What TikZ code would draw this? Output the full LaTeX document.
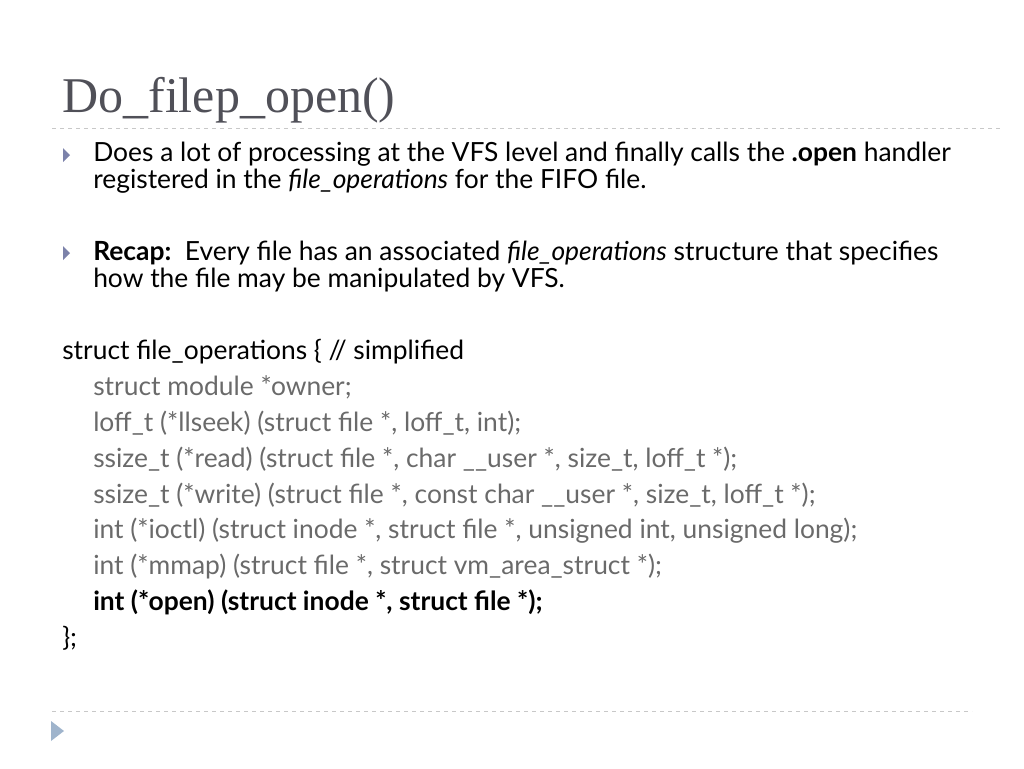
\documentclass[tikz,border=0pt]{standalone}
\usepackage{fontspec}
\setmainfont{Lato}
\newfontfamily\titlefont{Liberation Serif}
\definecolor{titlegray}{HTML}{505058}
\definecolor{codegray}{HTML}{6A6A6A}
\definecolor{bulletblue}{HTML}{7C82AA}
\definecolor{rulegray}{HTML}{C8C8C8}
\definecolor{cornerblue}{HTML}{9FB4CC}
\tikzset{
  bodytext/.style={anchor=base west, inner sep=0pt, font=\fontsize{19.8}{24}\selectfont},
  codetext/.style={bodytext, text=codegray},
  sliderule/.style={rulegray, dashed, line width=0.6pt},
}
\newcommand{\bullettri}[2]{\fill[bulletblue] (#1,#2-7) -- (#1+7,#2) -- (#1,#2+7) -- cycle;}
\begin{document}
\begin{tikzpicture}[x=0.75pt,y=-0.75pt]
        \useasboundingbox (0,0) rectangle (1024,768);
        \node[anchor=base west, inner sep=0pt, text=titlegray, font=\titlefont\fontsize{37.5}{40}\selectfont] (title) at (62,112) {Do\_filep\_open()};
        \draw[sliderule] (52,128) -- (1000,128);
        \draw[sliderule] (52,711) -- (972,711);
        \fill[cornerblue] (51,721) -- (64,731) -- (51,741) -- cycle;

        \bullettri{63}{155}
        \node[bodytext] (opena) at (93,161) {Does a lot of processing at the VFS level and finally calls the \textbf{.open} handler};
        \node[bodytext] (openb) at (93,188) {registered in the \textit{file\_operations} for the FIFO file.};
        \bullettri{63}{253}
        \node[bodytext] (recapa) at (93,260) {\textbf{Recap:}\ \ Every file has an associated \textit{file\_operations} structure that specifies};
        \node[bodytext] (recapb) at (93,287) {how the file may be manipulated by VFS.};

        \node[bodytext] (structhead) at (62,359) {struct file\_operations \{ // simplified};
        \node[codetext] (owner) at (93,395) {struct module *owner;};
        \node[codetext] (llseek) at (93,431) {loff\_t (*llseek) (struct file *, loff\_t, int);};
        \node[codetext] (read) at (93,467) {ssize\_t (*read) (struct file *, char \_\_user *, size\_t, loff\_t *);};
        \node[codetext] (write) at (93,503) {ssize\_t (*write) (struct file *, const char \_\_user *, size\_t, loff\_t *);};
        \node[codetext] (ioctl) at (93,538) {int (*ioctl) (struct inode *, struct file *, unsigned int, unsigned long);};
        \node[codetext] (mmap) at (93,574) {int (*mmap) (struct file *, struct vm\_area\_struct *);};
        \node[bodytext] (openop) at (93,610) {\textbf{int (*open) (struct inode *, struct file *);}};
        \node[bodytext] (structend) at (62,646) {\};};
\end{tikzpicture}
\end{document}
